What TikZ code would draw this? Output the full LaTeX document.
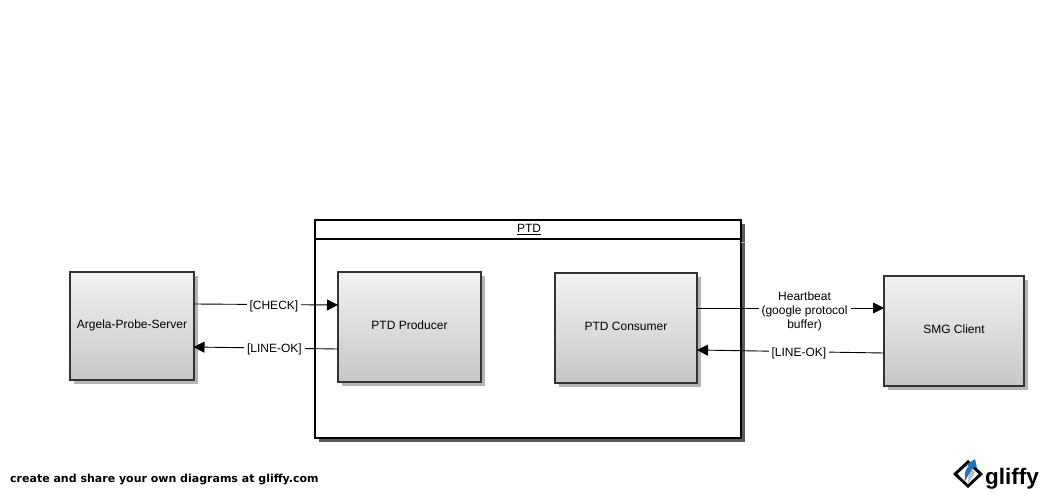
\documentclass[tikz,border=0pt]{standalone}
\usepackage{fontspec}
\setmainfont{Liberation Sans}
\newfontfamily\footfont{DejaVu Sans}
\usetikzlibrary{shadows,arrows.meta}
\definecolor{boxedge}{HTML}{333333}
\definecolor{shadowgray}{HTML}{B4B4B4}
\definecolor{ptdshadow}{HTML}{5A5A5A}
\definecolor{logoblue}{HTML}{1F74B8}
\tikzset{
  x=1pt,y=-1pt,
  block/.style={draw=boxedge,line width=2pt,rectangle,inner sep=0pt,outer sep=0pt,text depth=3pt,
    top color=black!5,bottom color=black!22,font=\fontsize{12}{14}\selectfont,
    general shadow={fill=shadowgray,shadow xshift=4pt,shadow yshift=-4pt}},
  container/.style={draw=black,line width=2.4pt,fill=white,rectangle,inner sep=0pt,outer sep=0pt,
    general shadow={fill=ptdshadow,shadow xshift=4pt,shadow yshift=-4pt}},
  titlebar/.style={draw=black,line width=2pt,fill=white,rectangle,inner sep=0pt,outer sep=0pt,
    font=\fontsize{12}{14}\selectfont},
  link/.style={draw=black,line width=0.9pt,-{Triangle[length=11pt,width=11pt]}},
  tag/.style={fill=white,inner sep=3pt,align=center,font=\fontsize{12}{14}\selectfont},
}
\begin{document}
\begin{tikzpicture}
\useasboundingbox (0,0) rectangle (1044,494);
\fill[white] (0,0) rectangle (1044,494);

\node[container,minimum width=426pt,minimum height=218pt] (ptd) at (528,329) {};
\draw[shadowgray,line width=1pt] (741,243) -- (746,243);
\node[titlebar,minimum width=426pt,minimum height=19pt] (ptdtitle) at (528,229.5) {\hspace{2pt}\underline{PTD}};

\node[block,minimum width=124pt,minimum height=108pt] (argela) at (132,326) {Argela-Probe-Server};
\node[block,minimum width=143pt,minimum height=110pt] (producer) at (409.5,327) {PTD Producer};
\node[block,minimum width=142pt,minimum height=110pt] (consumer) at (626,328) {PTD Consumer};
\node[block,minimum width=140pt,minimum height=110pt] (smg) at (954,331) {SMG Client};

\coordinate (a1) at (194,304);
\coordinate (p1) at (338,305);
\coordinate (p2) at (338,349);
\coordinate (a2) at (193.5,347);
\coordinate (c1) at (697,308);
\coordinate (s1) at (884,308);
\coordinate (s2) at (884,353);
\coordinate (c2) at (697,350);

\draw[link] (a1) -- node[tag,pos=0.555,yshift=-1.5pt] (check) {[CHECK]} (p1);
\draw[link] (p2) -- node[tag,pos=0.44,yshift=-1pt] (lineok1) {[LINE-OK]} (a2);
\draw[link] (c1) -- node[tag,pos=0.575,yshift=-3pt] (heart) {Heartbeat\\(google protocol\\buffer)} (s1);
\draw[link] (s2) -- node[tag,pos=0.455,yshift=-1.5pt] (lineok2) {[LINE-OK]} (c2);

\node[anchor=west,inner sep=0pt,font=\footfont\bfseries\fontsize{11}{12}\selectfont] (foot) at (10,479.5) {create and share your own diagrams at gliffy.com};

% logo
\fill[black] (953,474) -- (968,460) -- (983,474) -- (968,488) -- cycle;
\fill[white] (957.5,474) -- (968,464.5) -- (978.5,474) -- (968,484) -- cycle;
\fill[black!25] (969,468) -- (975,472) -- (968,484) -- cycle;
\fill[logoblue] (965,481) .. controls (964,472) and (966,468) .. (969,466) -- (966,465) -- (975,459) -- (977,468) -- (974,467) .. controls (971,470) and (969,474) .. (965,481) -- cycle;
\node[anchor=west,inner sep=0pt,font=\bfseries\fontsize{22.5}{25}\selectfont] (logo) at (985,478.5) {gliffy};
\end{tikzpicture}
\end{document}
